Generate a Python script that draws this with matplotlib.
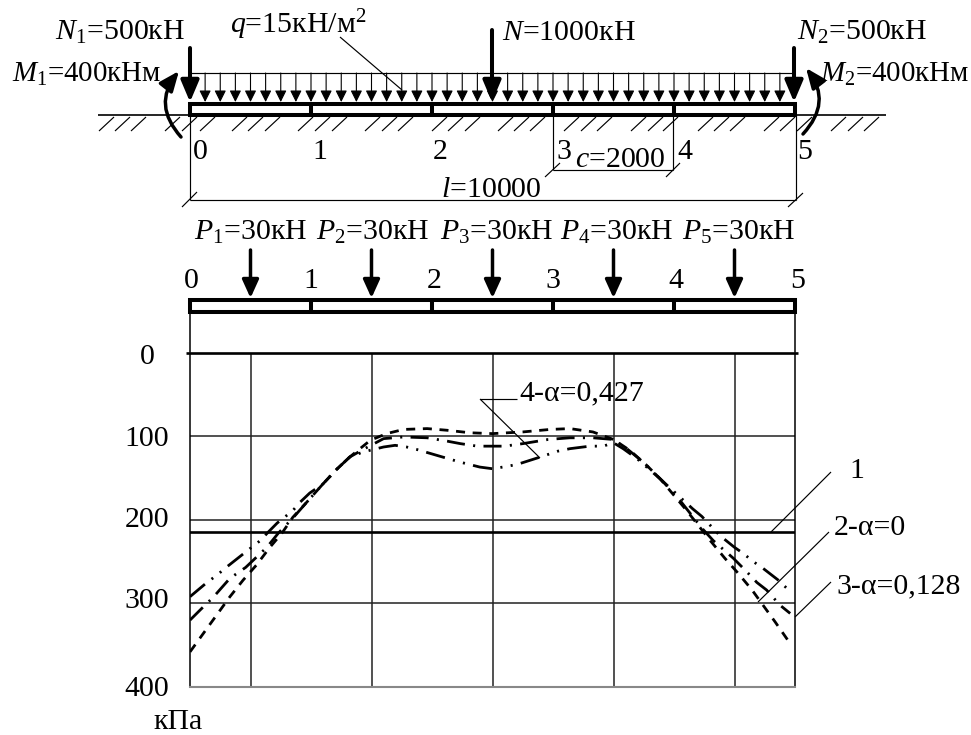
import matplotlib
matplotlib.use('Agg')
import matplotlib.pyplot as plt
from matplotlib.patches import FancyArrowPatch, Rectangle
from matplotlib.transforms import Affine2D

plt.rcParams['font.family'] = ['Liberation Serif', 'DejaVu Sans']
plt.rcParams['mathtext.fontset'] = 'custom'
plt.rcParams['mathtext.rm'] = 'Liberation Serif'
plt.rcParams['mathtext.it'] = 'Liberation Serif:italic'
plt.rcParams['lines.scale_dashes'] = False

# pressure under the beam, x in metres, p in kPa
x_2 = [0, .2, .46, .66, .88, 1.1, 1.32, 1.52, 1.7, 1.93, 2.2, 2.42, 2.64, 2.98, 3.25, 3.53, 3.92, 4.25, 4.63, 5,
       5.5, 5.95, 6.28, 6.66, 7, 7.27, 7.55, 7.77, 8.21, 8.6, 8.84, 9.06, 9.29, 9.47, 9.67, 9.92]
p_2 = [358, 338, 312, 292, 272, 254, 233, 216, 197, 179, 157, 140, 125, 105, 97, 92, 91, 93, 96, 97,
       95, 92, 91, 95, 104, 117, 135, 151, 189, 225, 246, 264, 284, 302, 322, 348]
x_3 = [0, .25, .38, .66, .92, 1.27, 1.46, 1.7, 1.93, 2.2, 2.42, 2.64, 2.86, 3.2, 3.53, 3.92, 4.25, 4.47, 4.75, 5,
       5.2, 5.5, 5.92, 6.28, 6.66, 7, 7.22, 7.49, 7.8, 8.1, 8.46, 8.65, 8.98, 9.2, 9.37, 9.53, 9.75, 9.92]
p_3 = [320, 302, 293, 270, 257, 233, 216, 198, 179, 157, 140, 125, 116, 103, 101, 102, 106, 109, 112, 112,
       112, 109, 104, 102, 102, 104, 115, 131, 153, 177, 210, 225, 246, 262, 275, 284, 302, 312]
x_4 = [0, .28, .45, .58, 1, 1.16, 1.29, 1.44, 1.7, 1.82, 1.98, 2.2, 2.42, 2.64, 2.86, 3.2, 3.39, 3.58, 3.75, 4.08, 4.46, 4.79, 5,
       5.17, 5.4, 5.79, 6.08, 6.28, 6.61, 6.83, 7, 7.16, 7.39, 7.8, 8.1, 8.31, 8.46, 8.76, 9, 9.14, 9.31, 9.47, 9.72, 9.88]
p_4 = [292, 275, 266, 258, 234, 225, 215, 204, 189, 179, 168, 157, 140, 125, 119, 113, 111, 113, 116, 123, 131, 137, 139,
       137, 134, 125, 118, 115, 112, 112, 108, 115, 127, 153, 173, 187, 196, 219, 233, 240, 250, 258, 272, 283]
p_uniform = 215

p_ticks = [0, 100, 200, 300, 400]
p_labels = ['0', '100', '200', '300', '400']
load_x = [1, 3, 5, 7, 9]
load_labels = ['$P_1$=30кН', '$P_2$=30кН', '$P_3$=30кН', '$P_4$=30кН', '$P_5$=30кН']
node_labels = ['0', '1', '2', '3', '4', '5']

FS = 21.5
W, H = 971, 735


def add_arrow(ax, x, y0, y1, lw, hl, hw):
    ax.add_patch(FancyArrowPatch((x, y0), (x, y1), arrowstyle='-|>,head_length=%g,head_width=%g' % (hl, hw),
                                 mutation_scale=1, lw=lw, color='k', shrinkA=0, shrinkB=0, zorder=5))


def add_line(ax, x0, y0, x1, y1, lw=0.85):
    ax.plot([x0, x1], [y0, y1], color='k', lw=lw, solid_capstyle='butt')


def add_beam(ax, top, bottom, nodes):  # box with ribs at the element nodes
    ax.add_patch(Rectangle((nodes[0], top), nodes[-1] - nodes[0], bottom - top, fc='w', ec='k', lw=2.9, joinstyle='miter'))
    for x in nodes[1:-1]:
        add_line(ax, x, top, x, bottom, lw=2.9)


fig = plt.figure(figsize=(W / 100, H / 100), dpi=100)

# lower chart
ax = fig.add_axes([190 / W, 1 - 687 / H, 605 / W, 334.5 / H])
ax.set_xlim(0, 10)
ax.set_ylim(400, 0)
ax.set_xticks(load_x)
ax.set_yticks(p_ticks)
ax.set_yticklabels(p_labels, fontsize=FS)
ax.tick_params(length=0, labelbottom=False, pad=15)
ax.grid(True, color='#222222', lw=1.1)
for side in ['top', 'right', 'left']:
    ax.spines[side].set_linewidth(1.1)
ax.spines['top'].set_visible(False)
ax.spines['bottom'].set_color('#888888')
ax.spines['bottom'].set_linewidth(1.5)
for lab, dx, dy in zip(ax.get_yticklabels(), [-14, 0, 0, 0, 0], [1, 0, -3, -5, -1]):
    lab.set_transform(lab.get_transform() + Affine2D().translate(dx, -dy))

ax.plot([-0.07, 10.05], [0, 0], color='k', lw=1.9, clip_on=False, solid_capstyle='butt')
ax.axhline(p_uniform, color='k', lw=1.9)
ax.plot(x_2, p_2, color='k', lw=2.0, dashes=(6.5, 5.5))
ax.plot(x_3, p_3, color='k', lw=2.0, dashes=(13, 6, 1.5, 6))
ax.plot(x_4, p_4, color='k', lw=2.0, dashes=(14, 6, 1.5, 6, 1.5, 6))

# everything else is a drawing in picture pixels
dr = fig.add_axes([0, 0, 1, 1])
dr.set_xlim(0, W)
dr.set_ylim(H, 0)
dr.axis('off')
dr.patch.set_alpha(0)

nodes = [190, 311, 432, 553, 674, 795]

# top scheme
add_line(dr, 98, 115, 886, 115, lw=1.2)
add_beam(dr, 104, 115, nodes)
hatch_x = [99, 115, 131, 165, 182, 200, 232, 248, 265, 298, 315, 332, 365, 382, 398, 432, 448, 465,
           498, 514, 530, 564, 581, 597, 631, 648, 663, 698, 714, 730, 764, 780, 797, 831, 848, 864]
for x in hatch_x:
    add_line(dr, x, 131, x + 15, 117)

add_line(dr, 190, 73, 795, 73)
for i in range(1, 40):
    add_arrow(dr, 190 + i * 15.125, 73, 102, 0.8, 7, 3.5)
add_arrow(dr, 190, 48, 102, 2.9, 13, 5.5)
add_arrow(dr, 492, 30, 102, 2.9, 13, 5.5)
add_arrow(dr, 794, 48, 102, 2.9, 13, 5.5)
dr.add_patch(FancyArrowPatch((181, 137), (179, 71), connectionstyle='arc3,rad=-0.42',
                             arrowstyle='-|>,head_length=12,head_width=5', mutation_scale=1, lw=2.5, color='k',
                             shrinkA=0, shrinkB=0, zorder=6))
dr.add_patch(FancyArrowPatch((803, 134), (806, 68), connectionstyle='arc3,rad=0.42',
                             arrowstyle='-|>,head_length=12,head_width=5', mutation_scale=1, lw=2.5, color='k',
                             shrinkA=0, shrinkB=0, zorder=6))

# dimensions
add_line(dr, 190, 115, 190, 200)
add_line(dr, 796, 115, 796, 200)
add_line(dr, 190, 200, 796, 200)
add_line(dr, 182, 207, 197, 192)
add_line(dr, 788, 207, 803, 193)
add_line(dr, 553, 115, 553, 170)
add_line(dr, 673, 115, 673, 170)
add_line(dr, 553, 170, 673, 170)
add_line(dr, 545, 177, 560, 163)
add_line(dr, 666, 177, 680, 163)
add_line(dr, 340, 37, 402, 90)

dr.text(55, 40, '$N_1$=500кН', fontsize=FS)
dr.text(230, 33, '$q$=15кН/м$^2$', fontsize=FS)
dr.text(502, 40, '$N$=1000кН', fontsize=FS)
dr.text(797, 40, '$N_2$=500кН', fontsize=FS)
dr.text(12, 82, '$M_1$=400кНм', fontsize=20.8)
dr.text(820, 82, '$M_2$=400кНм', fontsize=20.8)
dr.text(441, 197, '$l$=10000', fontsize=FS)
dr.text(575, 167, '$c$=2000', fontsize=FS)
for x, lab in zip([193, 312, 433, 556, 677, 797], node_labels):
    dr.text(x, 159, lab, fontsize=FS)

# lower scheme with the loads
add_beam(dr, 300, 312, nodes)
add_line(dr, 190, 312, 190, 352, lw=1.1)
add_line(dr, 795, 312, 795, 352, lw=1.1)
for x, lab in zip([191, 311, 434, 553, 676, 798], node_labels):
    dr.text(x, 288, lab, fontsize=FS, ha='center')
for v, lab, lx in zip(load_x, load_labels, [194, 316, 440, 560, 682]):
    add_arrow(dr, 190 + v * 60.5, 250, 298, 2.5, 11, 5)
    dr.text(lx, 240, lab, fontsize=FS)

# curve labels
dr.text(153, 729, 'кПа', fontsize=FS)
add_line(dr, 517, 399, 480, 399)
add_line(dr, 480, 399, 540, 458)
dr.text(519, 400, '4-α=0,427', fontsize=FS)
add_line(dr, 771, 532, 831, 472)
dr.text(849, 478, '1', fontsize=FS)
add_line(dr, 758, 602, 829, 532)
dr.text(834, 535, '2-α=0', fontsize=FS)
add_line(dr, 795, 617, 831, 582)
dr.text(836, 593, '3-α=0,128', fontsize=FS)

fig.savefig('out.png', dpi=100)
